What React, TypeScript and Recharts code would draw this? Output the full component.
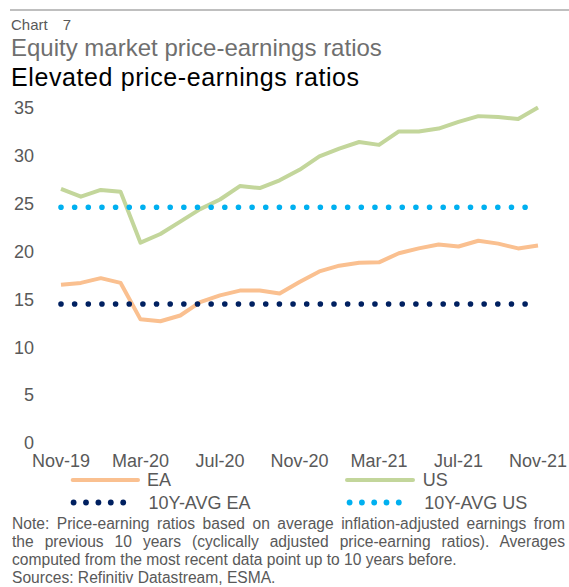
import React from "react";
import { LineChart, Line, XAxis, YAxis, Legend } from "recharts";

const months = [
  "Nov-19", "Dec-19", "Jan-20", "Feb-20", "Mar-20", "Apr-20", "May-20", "Jun-20", "Jul-20",
  "Aug-20", "Sep-20", "Oct-20", "Nov-20", "Dec-20", "Jan-21", "Feb-21", "Mar-21", "Apr-21",
  "May-21", "Jun-21", "Jul-21", "Aug-21", "Sep-21", "Oct-21", "Nov-21",
];
const eaValues = [
  16.5, 16.7, 17.2, 16.7, 12.9, 12.7, 13.3, 14.7, 15.4, 15.9, 15.9, 15.6, 16.8,
  17.9, 18.5, 18.8, 18.85, 19.8, 20.3, 20.7, 20.5, 21.1, 20.8, 20.3, 20.6,
];
const usValues = [
  26.5, 25.7, 26.4, 26.2, 20.9, 21.8, 23.1, 24.4, 25.4, 26.8, 26.6, 27.4, 28.5,
  29.9, 30.7, 31.4, 31.1, 32.5, 32.5, 32.8, 33.5, 34.1, 34.0, 33.8, 35.0,
];
const avgEA = 14.5;
const avgUS = 24.6;
const yTicks = [0, 5, 10, 15, 20, 25, 30, 35];

const series = [
  { key: "ea", name: "EA", color: "#fac090", dotted: false },
  { key: "us", name: "US", color: "#c3d69b", dotted: false },
  { key: "avgEa", name: "10Y-AVG EA", color: "#002060", dotted: true },
  { key: "avgUs", name: "10Y-AVG US", color: "#00b0f0", dotted: true },
];

const data = months.map((m, i) => ({
  month: m,
  ea: eaValues[i],
  us: usValues[i],
  avgEa: avgEA,
  avgUs: avgUS,
}));

const FONT = "'Liberation Sans', Arial, Helvetica, sans-serif";
const GRAY = "#595959";

const renderLegend = (props: any) => {
  const payload: any[] = props.payload || [];
  const cols = [
    { lineX1: 64.7, lineX2: 130, dotX: 65.6, dotStep: 12.4, textX: 139 },
    { lineX1: 339, lineX2: 405, dotX: 341.6, dotStep: 12.3, textX: 414.7 },
  ];
  const rowCenters = [13, 35.5];
  return (
    <svg width={530} height={46} style={{ display: "block", overflow: "visible" }}>
      {series.map((s, i) => {
        const p = payload.find((q) => q.dataKey === s.key) || { value: s.name, color: s.color };
        const c = cols[i % 2];
        const cy = rowCenters[Math.floor(i / 2)];
        return (
          <g key={s.key}>
            {s.dotted ? (
              [0, 1, 2, 3, 4].map((k) => (
                <circle key={k} cx={c.dotX + k * c.dotStep} cy={cy} r={2.9} fill={p.color} />
              ))
            ) : (
              <line x1={c.lineX1} x2={c.lineX2} y1={cy} y2={cy} stroke={p.color} strokeWidth={4} strokeLinecap="round" />
            )}
            <text x={s.dotted ? c.textX + 1.5 : c.textX} y={cy + 6.45} fontSize={18} fontFamily={FONT} fill={GRAY}>
              {p.value}
            </text>
          </g>
        );
      })}
    </svg>
  );
};

const noteLines = [
  "Note: Price-earning ratios based on average inflation-adjusted earnings from",
  "the previous 10 years (cyclically adjusted price-earning ratios). Averages",
];
const noteLast = "computed from the most recent data point up to 10 years before.";
const sources = "Sources: Refinitiv Datastream, ESMA.";

export default function App() {
  return (
    <div style={{ position: "relative", width: 561, height: 579, fontFamily: FONT }}>
      <style>{"html,body{overflow:hidden;} body{margin-right:0 !important;} #root{width:561px;}"}</style>
      <div style={{ position: "absolute", left: 2, top: 0.5, width: 559, height: 2, background: "#bfbfbf" }} />
      <div style={{ position: "absolute", left: 3, top: 8.6, fontSize: 15, lineHeight: 1, color: GRAY, whiteSpace: "nowrap" }}>
        Chart<span style={{ display: "inline-block", width: 15 }} />7
      </div>
      <div style={{ position: "absolute", left: 3, top: 28.4, fontSize: 24, lineHeight: 1, color: "#6f6f6f", whiteSpace: "nowrap" }}>
        Equity market price-earnings ratios
      </div>
      <div style={{ position: "absolute", left: 3, top: 56.5, fontSize: 25, letterSpacing: 0.6, lineHeight: 1, color: "#000", whiteSpace: "nowrap" }}>
        Elevated price-earnings ratios
      </div>
      <div style={{ position: "absolute", left: 0, top: 0 }}>
        <LineChart width={561} height={505} data={data} margin={{ top: 99.5, right: 31, left: 0, bottom: 0 }} style={{ overflow: "visible" }}>
          <XAxis
            dataKey="month"
            interval={3}
            axisLine={false}
            tickLine={false}
            tickSize={0}
            tickMargin={11}
            height={24}
            tick={{ fontSize: 18, fontFamily: FONT, fill: GRAY }}
          />
          <YAxis
            domain={[0, 35]}
            ticks={yTicks}
            interval={0}
            axisLine={false}
            tickLine={false}
            tickSize={0}
            tickMargin={27}
            width={53}
            tick={{ fontSize: 18, fontFamily: FONT, fill: GRAY }}
          />
          {series.map((s) =>
            s.dotted ? (
              <Line
                key={s.key}
                dataKey={s.key}
                name={s.name}
                stroke={s.color}
                strokeWidth={5.6}
                strokeLinecap="round"
                strokeDasharray="0 13.65"
                dot={false}
                activeDot={false}
                isAnimationActive={false}
              />
            ) : (
              <Line
                key={s.key}
                dataKey={s.key}
                name={s.name}
                stroke={s.color}
                strokeWidth={4}
                strokeLinejoin="round"
                dot={false}
                activeDot={false}
                isAnimationActive={false}
                type="linear"
              />
            )
          )}
          <Legend verticalAlign="bottom" height={46} content={renderLegend} />
        </LineChart>
      </div>
      <div style={{ position: "absolute", left: 4, top: 507, width: 553, height: 72, overflow: "hidden", fontSize: 15.6, lineHeight: "18px", color: GRAY }}>
        {noteLines.map((l, i) => (
          <div key={i} style={{ textAlign: "justify", textAlignLast: "justify", whiteSpace: "nowrap", wordSpacing: -3 }}>
            {l}
          </div>
        ))}
        <div style={{ whiteSpace: "nowrap" }}>{noteLast}</div>
        <div style={{ whiteSpace: "nowrap" }}>{sources}</div>
      </div>
    </div>
  );
}
